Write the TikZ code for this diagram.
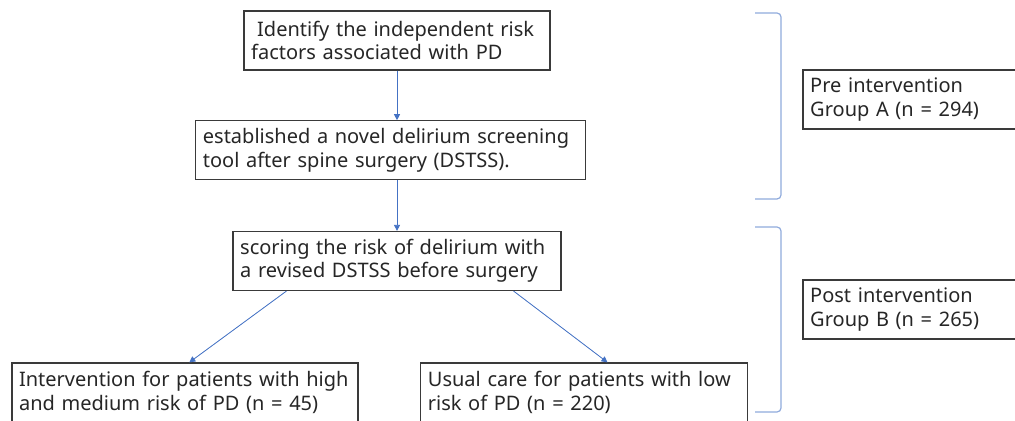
\documentclass[tikz,border=0pt]{standalone}
\usepackage{fontspec}
\setmainfont{Noto Sans}
\usetikzlibrary{arrows.meta, positioning}

\definecolor{arrowblue}{HTML}{4472C4}
\definecolor{braceblue}{HTML}{8FAADC}
\definecolor{framegray}{HTML}{3A3A3A}

\begin{document}
\begin{tikzpicture}[
    x=0.5pt, y=-0.5pt,            % 1 unit = 1 pixel of the reference
    stage/.style={draw=framegray, line width=0.6pt, fill=white, align=left, inner xsep=3.6pt, inner ysep=0pt,
                  minimum height=29.5pt, text=black!85, font=\fontsize{10}{11.6}\selectfont},
    flow/.style={-{Triangle[length=3pt,width=3pt]}, draw=arrowblue, fill=arrowblue, line width=0.4pt},
    brace/.style={draw=braceblue, line width=0.6pt, rounded corners=2pt}
  ]
  \useasboundingbox (0,0) rectangle (1015,421);

  % flow boxes
  \node[stage, text width=145.8pt] (identify) at (397,40.5)   {\hspace*{3pt}Identify the independent risk\\factors associated with PD};
  \node[stage, text width=187.8pt] (tool)     at (390.7,150.3) {established a novel delirium screening\\tool after spine surgery (DSTSS).};
  \node[stage, text width=156.8pt] (scoring)  at (397,261)     {scoring the risk of delirium with\\a revised DSTSS before surgery};
  \node[stage, text width=165.8pt] (highrisk) at (184.9,392.5) {Intervention for patients with high\\and medium risk of PD (n = 45)};
  \node[stage, text width=156.3pt] (lowrisk)  at (584.2,392.5) {Usual care for patients with low\\risk of PD (n = 220)};

  % group boxes (cut by the right edge)
  \node[stage, text width=106.3pt] (pregroup)  at (916.5,99.5)  {Pre intervention\\Group A (n = 294)};
  \node[stage, text width=106.3pt] (postgroup) at (916.5,309.5) {Post intervention\\Group B (n = 265)};

  % connectors
  \draw[flow] (identify.south) -- (identify.south |- tool.north);
  \draw[flow] (scoring.north |- tool.south) -- (scoring.north);
  \draw[flow] ([xshift=27pt]scoring.south west) -- ([xshift=89pt]highrisk.north west);
  \draw[flow] ([xshift=-24pt]scoring.south east) -- ([xshift=93.7pt]lowrisk.north west);

  % brackets
  \draw[brace] (755,13) -- (781,13) -- (781,199) -- (755,199);
  \draw[brace] (755,227) -- (781,227) -- (781,412) -- (755,412);

\end{tikzpicture}
\end{document}
